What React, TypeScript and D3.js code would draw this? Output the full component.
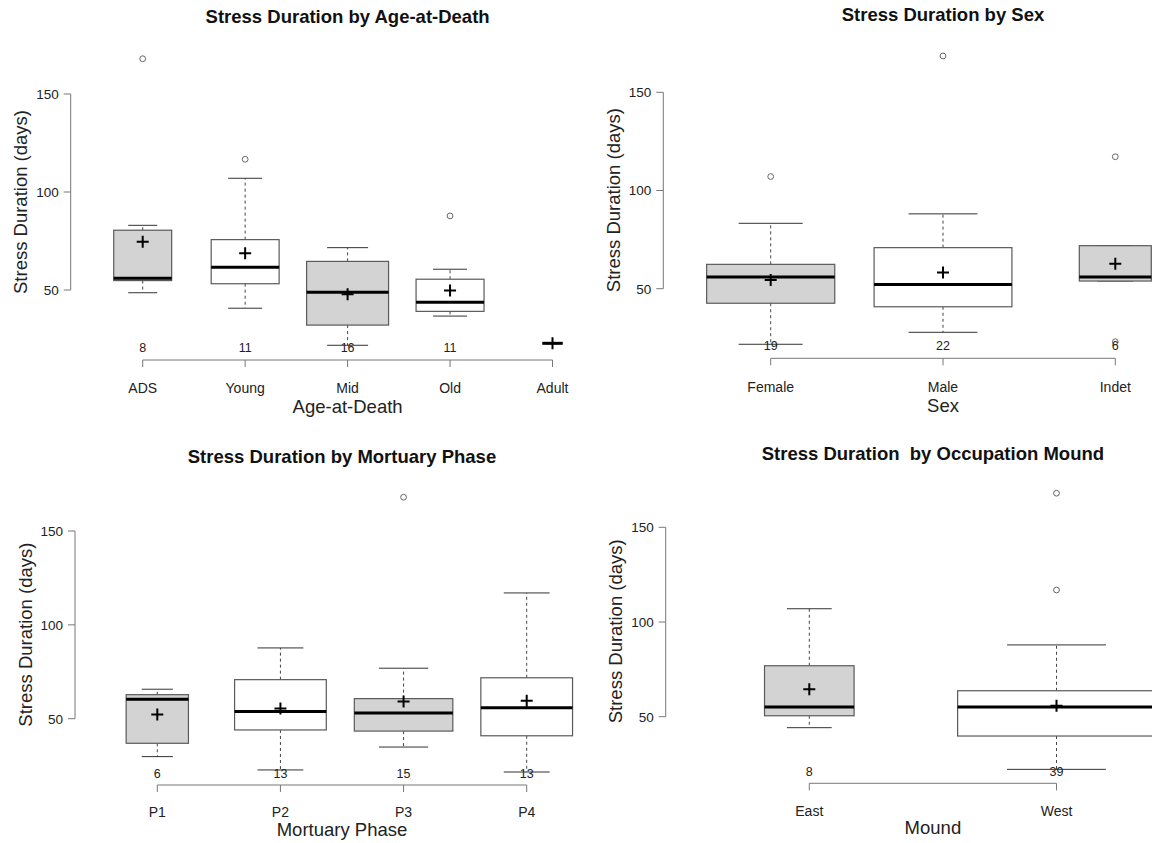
import React from 'react';
import * as d3 from 'd3';

const W = 1152;
const H = 843;
const FONT = '"Liberation Sans", Arial, Helvetica, sans-serif';

// shared y ticks
const yTicks = [50, 100, 150];

// --- Age-at-Death panel
const ageCats = ['ADS', 'Young', 'Mid', 'Old', 'Adult'];
const ageN = [8, 11, 16, 11, 1];
const ageLow = [48.6, 40.7, 21.8, 36.7, 22.8];
const ageQ1 = [54.8, 53.2, 32.1, 39.1, 22.8];
const ageMed = [56.0, 61.6, 48.8, 43.7, 22.8];
const ageQ3 = [80.5, 75.7, 64.6, 55.5, 22.8];
const ageHigh = [83.0, 107.0, 71.6, 60.6, 22.8];
const ageMean = [74.6, 68.7, 47.8, 49.8, 22.8];
const ageOut = [[168], [116.7], [], [87.8], []];

// --- Sex panel
const sexCats = ['Female', 'Male', 'Indet'];
const sexN = [19, 22, 6];
const sexLow = [21.7, 27.8, 53.9];
const sexQ1 = [42.6, 40.8, 53.9];
const sexMed = [56.0, 52.2, 56.0];
const sexQ3 = [62.4, 70.9, 71.9];
const sexHigh = [83.3, 88.1, 71.9];
const sexMean = [54.4, 58.3, 62.7];
const sexOut = [[107.1], [168.5], [117.2, 23.0]];

// --- Mortuary phase panel
const phaseCats = ['P1', 'P2', 'P3', 'P4'];
const phaseN = [6, 13, 15, 13];
const phaseLow = [29.8, 22.7, 34.9, 21.6];
const phaseQ1 = [36.9, 44.0, 43.4, 40.9];
const phaseMed = [60.3, 53.9, 53.0, 55.9];
const phaseQ3 = [62.8, 70.8, 60.7, 71.8];
const phaseHigh = [65.7, 87.7, 76.9, 117.0];
const phaseMean = [52.3, 55.5, 59.1, 59.6];
const phaseOut = [[], [], [168.0], []];

// --- Mound panel
const moundCats = ['East', 'West'];
const moundN = [8, 39];
const moundLow = [44.2, 22.2];
const moundQ1 = [50.5, 39.8];
const moundMed = [55.1, 55.1];
const moundQ3 = [76.9, 63.7];
const moundHigh = [107.0, 87.9];
const moundMean = [64.5, 55.8];
const moundOut = [[], [168.0, 116.9]];

// layout of each panel (pixels)
const layouts = {
  age: { xRange: [142.7, 552.5], yRange: [290, 94], axisX: 70.7, axisLineY: 360, nY: 347.7, catY: 388, xTitleY: 406.7, titleY: 22.5 },
  sex: { xRange: [770.7, 1115.3], yRange: [288.7, 92.3], axisX: 663.3, axisLineY: 358.3, nY: 345.7, catY: 386.7, xTitleY: 405.7, titleY: 21 },
  phase: { xRange: [157.3, 526.7], yRange: [718.7, 531], axisX: 75, axisLineY: 785, nY: 773.3, catY: 811.7, xTitleY: 829, titleY: 463 },
  mound: { xRange: [809.3, 1056.5], yRange: [716.7, 527.3], axisX: 665.7, axisLineY: 783.3, nY: 771.7, catY: 810.7, xTitleY: 827.3, titleY: 459.6 },
};

function BoxPanel({ title, xTitle, cats, n, low, q1, med, q3, high, mean, out, lay }) {
  const x = d3.scalePoint<string>().domain(cats).range(lay.xRange);
  const y = d3.scaleLinear().domain([50, 150]).range(lay.yRange);
  const step = x.step();
  const maxN = d3.max(n) as number;
  const boxW = (i: number) => 0.8 * step * Math.sqrt(n[i] / maxN);

  const all = [...low, ...high, ...out.flat()];
  const [lo, hi] = d3.extent(all) as [number, number];
  const pad = (hi - lo) * 0.04;
  const yMid = (y(lo - pad) + y(hi + pad)) / 2;
  const midX = (lay.xRange[0] + lay.xRange[1]) / 2;

  const axisCol = '#777';
  const textCol = '#222';

  return (
    <g fontFamily={FONT}>
      <text x={midX} y={lay.titleY} textAnchor="middle" fontSize={18.5} fontWeight="bold" fill="#111">
        {title}
      </text>

      {/* y axis */}
      <line x1={lay.axisX} x2={lay.axisX} y1={y(50)} y2={y(150)} stroke={axisCol} strokeWidth={1} />
      {yTicks.map(t => (
        <g key={t}>
          <line x1={lay.axisX - 7} x2={lay.axisX} y1={y(t)} y2={y(t)} stroke={axisCol} />
          <text x={lay.axisX - 12} y={y(t)} dy="0.36em" textAnchor="end" fontSize={13.5} fill={textCol}>
            {t}
          </text>
        </g>
      ))}
      <text
        transform={`translate(${lay.axisX - 50},${yMid}) rotate(-90)`}
        dy="0.36em"
        textAnchor="middle"
        fontSize={18.5}
        fill={textCol}
      >
        Stress Duration (days)
      </text>

      {/* boxes */}
      {cats.map((c, i) => {
        const cx = x(c) as number;
        const w = boxW(i);
        const fill = i % 2 === 0 ? '#d3d3d3' : '#ffffff';
        return (
          <g key={c}>
            <line x1={cx} x2={cx} y1={y(q3[i])} y2={y(high[i])} stroke="#444" strokeDasharray="3,3" />
            <line x1={cx} x2={cx} y1={y(q1[i])} y2={y(low[i])} stroke="#444" strokeDasharray="3,3" />
            <line x1={cx - w / 4} x2={cx + w / 4} y1={y(high[i])} y2={y(high[i])} stroke="#333" />
            <line x1={cx - w / 4} x2={cx + w / 4} y1={y(low[i])} y2={y(low[i])} stroke="#333" />
            <rect
              x={cx - w / 2}
              y={y(q3[i])}
              width={w}
              height={Math.max(0, y(q1[i]) - y(q3[i]))}
              fill={fill}
              stroke="#5a5a5a"
              strokeWidth={1.2}
            />
            <line x1={cx - w / 2} x2={cx + w / 2} y1={y(med[i])} y2={y(med[i])} stroke="#000" strokeWidth={3} />
            {out[i].map((o, j) => (
              <circle key={j} cx={cx} cy={y(o)} r={2.9} fill="none" stroke="#666" strokeWidth={1} />
            ))}
            <path
              d={`M${cx - 6},${y(mean[i])}H${cx + 6}M${cx},${y(mean[i]) - 6}V${y(mean[i]) + 6}`}
              stroke="#000"
              strokeWidth={2}
            />
          </g>
        );
      })}

      {/* x axis */}
      <line x1={lay.xRange[0]} x2={lay.xRange[1]} y1={lay.axisLineY} y2={lay.axisLineY} stroke={axisCol} />
      {cats.map((c, i) => (
        <g key={c}>
          <line x1={x(c)} x2={x(c)} y1={lay.axisLineY} y2={lay.axisLineY + 7} stroke={axisCol} />
          <text x={x(c)} y={lay.catY} dy="0.36em" textAnchor="middle" fontSize={14} fill={textCol}>
            {c}
          </text>
          {n[i] > 1 && (
            <text x={x(c)} y={lay.nY} dy="0.36em" textAnchor="middle" fontSize={12.5} fill={textCol}>
              {n[i]}
            </text>
          )}
        </g>
      ))}
      <text x={midX} y={lay.xTitleY} dy="0.36em" textAnchor="middle" fontSize={18.5} fill={textCol}>
        {xTitle}
      </text>
    </g>
  );
}

export default function App() {
  return (
    <svg
      width={W}
      height={H}
      viewBox={`0 0 ${W} ${H}`}
      style={{ position: 'absolute', left: 0, top: 0, background: '#fff' }}
    >
      <rect width={W} height={H} fill="#fff" />
      <BoxPanel
        title="Stress Duration by Age-at-Death"
        xTitle="Age-at-Death"
        cats={ageCats}
        n={ageN}
        low={ageLow}
        q1={ageQ1}
        med={ageMed}
        q3={ageQ3}
        high={ageHigh}
        mean={ageMean}
        out={ageOut}
        lay={layouts.age}
      />
      <BoxPanel
        title="Stress Duration by Sex"
        xTitle="Sex"
        cats={sexCats}
        n={sexN}
        low={sexLow}
        q1={sexQ1}
        med={sexMed}
        q3={sexQ3}
        high={sexHigh}
        mean={sexMean}
        out={sexOut}
        lay={layouts.sex}
      />
      <BoxPanel
        title="Stress Duration by Mortuary Phase"
        xTitle="Mortuary Phase"
        cats={phaseCats}
        n={phaseN}
        low={phaseLow}
        q1={phaseQ1}
        med={phaseMed}
        q3={phaseQ3}
        high={phaseHigh}
        mean={phaseMean}
        out={phaseOut}
        lay={layouts.phase}
      />
      <BoxPanel
        title={'Stress Duration \u00a0by Occupation Mound'}
        xTitle="Mound"
        cats={moundCats}
        n={moundN}
        low={moundLow}
        q1={moundQ1}
        med={moundMed}
        q3={moundQ3}
        high={moundHigh}
        mean={moundMean}
        out={moundOut}
        lay={layouts.mound}
      />
    </svg>
  );
}
